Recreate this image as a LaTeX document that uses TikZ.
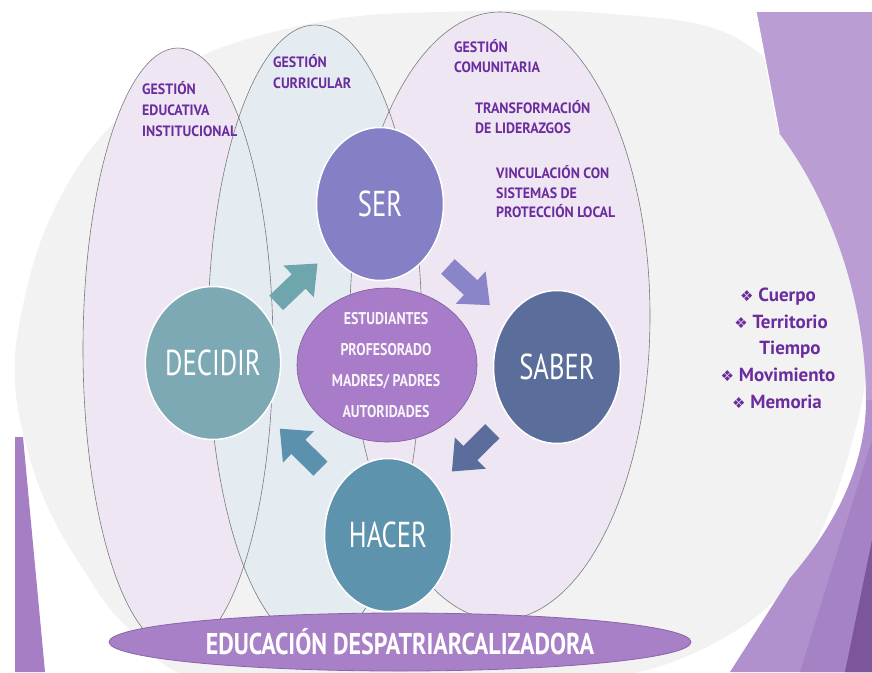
\documentclass[tikz,border=0pt]{standalone}
\usepackage{fontspec}
\setmainfont{PT Sans}
\newfontfamily\hdrfont[FakeStretch=0.93]{PT Sans}
\newfontfamily\circfont[FakeStretch=0.74]{PT Sans}
\newfontfamily\ctrfont[FakeStretch=0.82]{PT Sans}
\newfontfamily\banfont[FakeStretch=0.8]{PT Sans}
\newfontfamily\symf{DejaVu Sans}
\usetikzlibrary{shapes.geometric,calc}
\definecolor{bggray}{HTML}{F2F2F2}
\definecolor{lavA}{HTML}{EEE7F3}
\definecolor{bluB}{HTML}{E5ECF1}
\definecolor{outl}{HTML}{7A7A7A}
\definecolor{cSer}{HTML}{8580C5}
\definecolor{cSaber}{HTML}{5B6E9B}
\definecolor{cHacer}{HTML}{5E93AD}
\definecolor{cDecidir}{HTML}{7CA9B3}
\definecolor{cCenter}{HTML}{A87CC8}
\definecolor{cCenterLine}{HTML}{7F5C9A}
\definecolor{aDec}{HTML}{6FA5AC}
\definecolor{aSer}{HTML}{8A84C9}
\definecolor{aSab}{HTML}{5A6D9B}
\definecolor{aHac}{HTML}{5B91AD}
\definecolor{cBottom}{HTML}{A880C8}
\definecolor{cBottomLine}{HTML}{8A63AA}
\definecolor{tPurple}{HTML}{6B2C9E}
\definecolor{dTop}{HTML}{BA9DD3}
\definecolor{dBot}{HTML}{B090CD}
\definecolor{dMid}{HTML}{A582C4}
\definecolor{dDark}{HTML}{7C5698}
\definecolor{dLeft}{HTML}{A67EC4}
\tikzset{
  circ/.style={ellipse, draw=white, line width=1.5pt, inner sep=0pt,
    minimum width=127pt, minimum height=153pt, text=white,
    font=\circfont\fontsize{36}{36}\selectfont},
  hdr/.style={anchor=base west, inner sep=0pt, text=tPurple,
    font=\hdrfont\bfseries\fontsize{15}{15}\selectfont},
  bul/.style={anchor=base, inner sep=0pt, text=tPurple,
    font=\bfseries\fontsize{19}{19}\selectfont},
  vline/.style={draw=outl, line width=0.6pt}
}
\newcommand{\bsym}{{\symf\fontsize{15}{15}\selectfont\char"2756}\ }
\newcommand{\blockarrow}[3]{%
  \pgfmathanglebetweenpoints{\pgfpointanchor{#1}{center}}{\pgfpointanchor{#2}{center}}%
  \let\arrang\pgfmathresult
  \begin{scope}[shift={($(#1)!0.5!(#2)$)}, rotate=\arrang]
    \fill[#3] (-28,-10) -- (3,-10) -- (3,-22) -- (29,0) -- (3,22) -- (3,10) -- (-28,10) -- cycle;
  \end{scope}}
\begin{document}
\begin{tikzpicture}[x=1pt,y=1pt]
\useasboundingbox (0,0) rectangle (872,-672);
\clip (0,0) rectangle (872,-672);
\fill[white] (0,0) rectangle (872,-672);
% big gray backdrop
\fill[bggray] plot[smooth cycle, tension=0.6] coordinates {(15,-385) (20,-320) (45,-230) (90,-150) (150,-92) (215,-50) (330,-20) (440,-12) (600,-13) (740,-40) (830,-150) (866,-330) (850,-450) (800,-570) (720,-640) (600,-680) (400,-690) (200,-680) (125,-625) (85,-572) (50,-512) (28,-452)};
% right decoration
\fill[dTop] (756,-12) -- (872,-12) -- (872,-400) -- (866,-400) .. controls (866,-300) and (830,-200) .. (779,-133) -- cycle;
\fill[dBot] (866,-400) -- (872,-400) -- (872,-672) -- (730,-672) -- (790,-578) .. controls (840,-520) and (866,-460) .. (866,-400) -- cycle;
\fill[dMid] (872,-440) -- (872,-672) -- (800,-672) -- cycle;
\fill[dDark] (872,-540) -- (872,-672) -- (845,-672) -- cycle;
\draw[white, line width=1.2pt] (756,-12) -- (779,-133);
% left strip
\fill[dLeft] (15,-437) -- (23,-437) -- (45,-672) -- (15,-672) -- cycle;
% management ellipses
\fill[lavA] (178,-349) ellipse [x radius=95, y radius=301];
\fill[bluB] (315,-335) ellipse [x radius=107, y radius=310];
\fill[lavA] (500,-316) ellipse [x radius=150, y radius=304];
\draw[vline] (178,-349) ellipse [x radius=95, y radius=301];
\draw[vline] (315,-335) ellipse [x radius=107, y radius=310];
\draw[vline] (500,-316) ellipse [x radius=150, y radius=304];
% headers
\node[hdr] (g1a) at (142,-94) {GESTIÓN};
\node[hdr] (g1b) at (142,-115) {EDUCATIVA};
\node[hdr] (g1c) at (142,-136) {INSTITUCIONAL};
\node[hdr] (g2a) at (273,-67) {GESTIÓN};
\node[hdr] (g2b) at (273,-88) {CURRICULAR};
\node[hdr] (g3a) at (454,-52) {GESTIÓN};
\node[hdr] (g3b) at (454,-72) {COMUNITARIA};
\node[hdr] (t1a) at (475,-113) {TRANSFORMACIÓN};
\node[hdr] (t1b) at (475,-133) {DE LIDERAZGOS};
\node[hdr] (v1a) at (496,-178) {VINCULACIÓN CON};
\node[hdr] (v1b) at (496,-198) {SISTEMAS DE};
\node[hdr] (v1c) at (496,-217) {PROTECCIÓN LOCAL};
% circles
\node[circ, fill=cSer] (ser) at (380,-204) {SER};
\node[circ, fill=cSaber] (saber) at (557,-367) {SABER};
\node[circ, fill=cHacer] (hacer) at (388,-535) {HACER};
\node[circ, fill=cDecidir] (decidir) at (213,-363) {DECIDIR};
% center
\node[ellipse, fill=cCenter, draw=cCenterLine, line width=0.6pt, inner sep=0pt,
  minimum width=180pt, minimum height=154pt] (ctr) at (387,-365) {};
\node[align=center, inner sep=0pt, text=white!92!cCenter,
  font=\ctrfont\bfseries\fontsize{17}{31}\selectfont] (ctrtxt) at (386,-365)
  {ESTUDIANTES\\PROFESORADO\\MADRES/ PADRES\\AUTORIDADES};
% arrows
\blockarrow{decidir}{ser}{aDec}
\blockarrow{ser}{saber}{aSer}
\blockarrow{saber}{hacer}{aSab}
\blockarrow{hacer}{decidir}{aHac}
% bottom banner
\node[ellipse, fill=cBottom, draw=cBottomLine, line width=0.8pt, inner sep=0pt,
  minimum width=582pt, minimum height=58pt, text=white,
  font=\banfont\bfseries\fontsize{30}{30}\selectfont] (edu) at (400,-642)
  {EDUCACIÓN DESPATRIARCALIZADORA};
% right list
\node[bul] (b1) at (778,-301) {\bsym Cuerpo};
\node[bul] (b2) at (781,-328) {\bsym Territorio};
\node[bul] (b3) at (790,-354) {Tiempo};
\node[bul] (b4) at (778,-381) {\bsym Movimiento};
\node[bul] (b5) at (777,-408) {\bsym Memoria};
\end{tikzpicture}
\end{document}
